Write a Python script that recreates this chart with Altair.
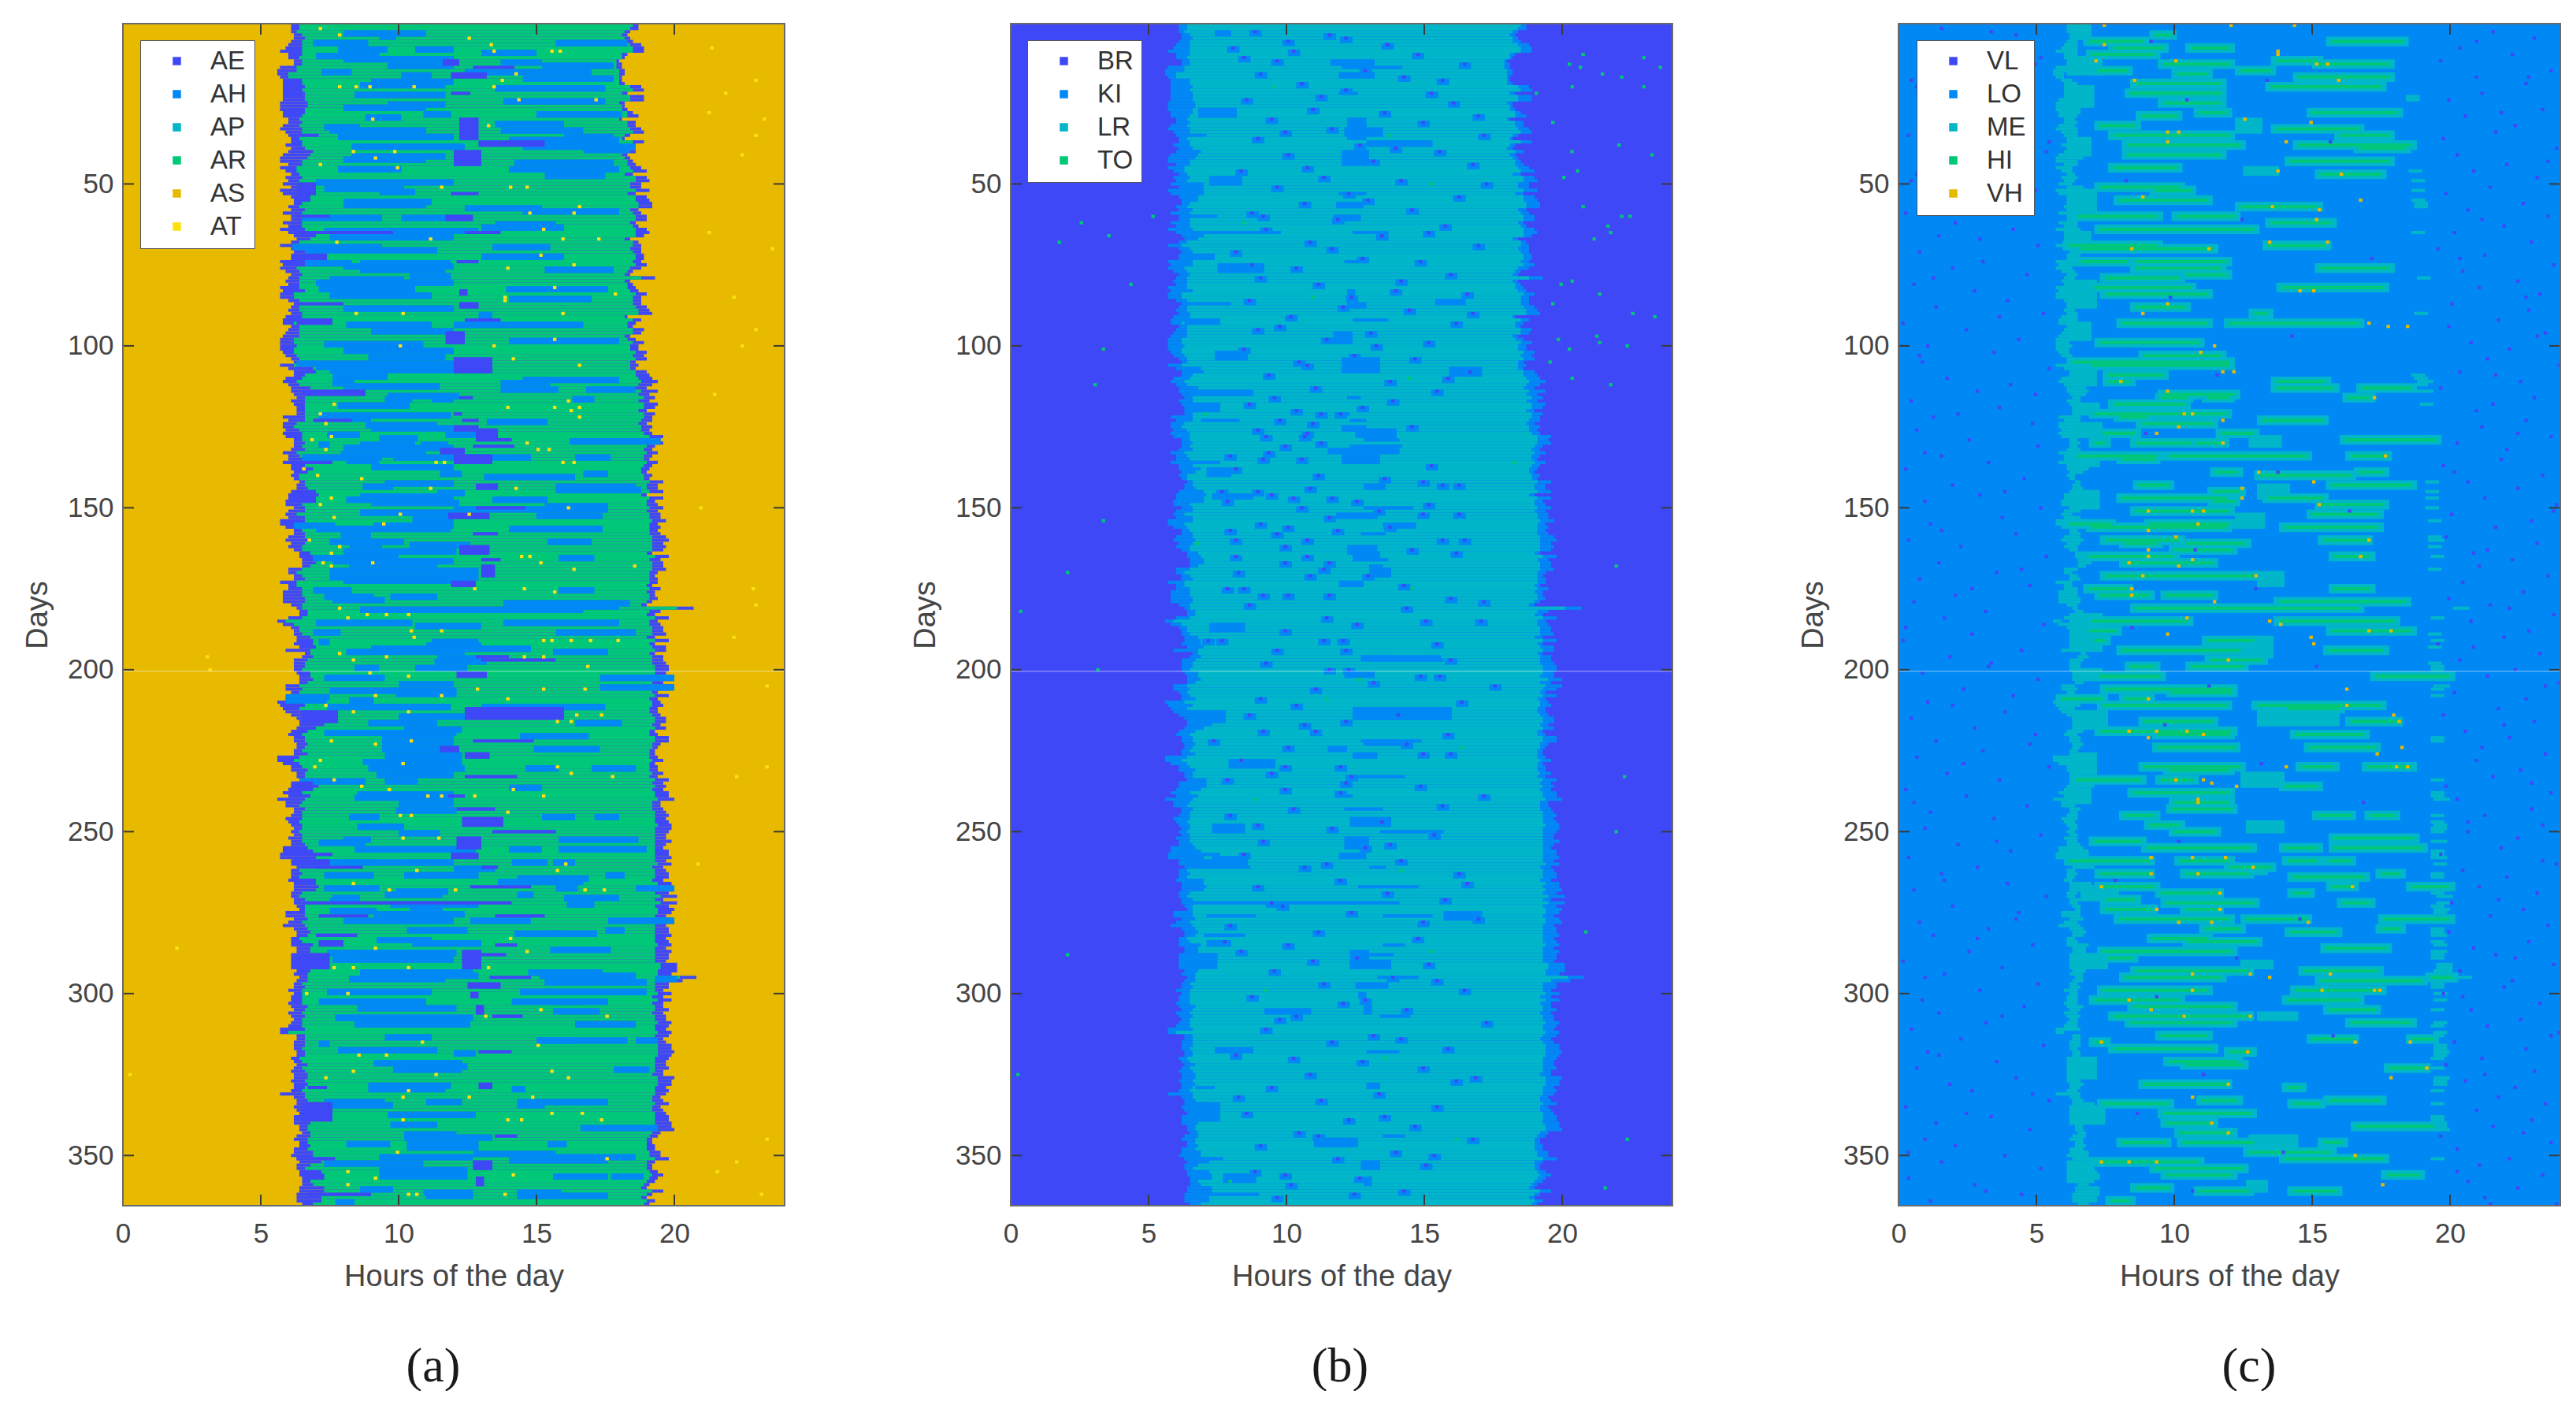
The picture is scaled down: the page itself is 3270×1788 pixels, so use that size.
import altair as alt
import pandas as pd

W, H = 840, 1500

HOUR_TICKS = [0, 5, 10, 15, 20]
DAY_TICKS = [50, 100, 150, 200, 250, 300, 350]

START = [
6.1,6.1,6.1,6.2,6.2,6.1,6.0,5.9,5.7,6.0,6.0,6.2,6.2,5.7,5.6,5.6,5.7,5.9,6.0,6.2,
6.2,6.1,6.0,5.8,5.7,5.7,5.7,5.8,5.8,6.0,6.0,5.8,5.7,5.9,6.0,6.1,6.1,5.9,6.1,6.0,
5.8,5.7,5.7,6.0,5.7,5.9,6.1,5.9,6.0,5.8,6.1,5.7,5.8,6.1,6.2,6.2,6.0,6.1,5.8,6.1,
6.1,5.8,6.0,5.7,6.0,6.2,6.3,6.1,5.7,6.1,6.2,6.1,6.1,5.7,5.8,5.7,5.9,6.1,6.0,5.9,
6.0,5.7,5.8,5.7,5.7,6.0,6.2,6.1,6.0,6.1,5.9,5.8,5.8,6.1,6.0,5.9,5.8,5.7,5.7,5.7,
5.7,5.8,5.9,6.1,6.2,5.7,6.0,6.2,6.2,5.9,5.8,6.0,6.1,6.1,6.2,6.3,6.1,6.2,6.3,6.3,
6.3,5.8,6.0,5.8,5.8,5.9,5.8,5.9,6.2,6.2,6.2,6.1,5.8,6.0,6.0,5.8,6.1,6.1,6.2,6.1,
6.2,6.4,6.3,6.3,6.3,6.0,6.0,5.9,5.9,6.2,6.0,5.9,6.0,5.7,5.7,5.9,6.2,6.2,6.0,5.9,
6.1,6.0,6.2,6.4,6.4,6.5,6.5,6.5,6.0,6.0,6.2,6.2,5.7,6.0,6.0,5.8,5.8,5.8,5.8,6.1,
6.3,6.4,6.4,6.0,5.6,5.8,6.1,6.2,6.2,6.3,6.3,6.2,6.4,5.9,6.6,6.5,6.2,6.2,6.2,6.2,
6.3,6.4,6.4,6.4,5.9,5.9,6.1,6.2,6.2,5.6,5.7,5.8,5.9,6.1,6.3,6.4,6.4,6.3,6.1,6.0,
6.2,6.2,6.3,6.3,6.2,6.2,5.6,5.6,5.8,6.1,6.1,6.3,6.3,6.4,6.2,6.1,6.0,5.8,6.0,5.6,
5.9,5.9,6.2,6.2,6.1,5.9,6.0,6.1,6.2,6.1,6.2,6.0,6.1,6.1,5.8,5.8,5.7,5.7,6.2,6.3,
6.3,6.1,6.1,6.1,6.0,6.2,6.2,6.2,6.1,6.1,6.2,6.2,6.3,6.4,5.9,5.9,6.2,6.0,5.8,6.2,
6.3,6.3,6.1,6.1,6.1,6.3,6.3,6.3,6.3,6.3,6.2,6.2,6.3,6.2,6.4,6.3,6.2,6.2,6.0,6.2,
6.1,6.1,6.0,6.1,6.2,6.0,6.1,6.2,6.1,6.0,5.7,5.7,6.3,6.3,6.2,6.2,6.2,6.3,6.3,6.1,
6.2,6.3,6.2,6.1,6.2,6.2,6.1,6.2,6.2,6.1,5.7,6.2,6.3,6.3,6.2,6.3,6.4,6.2,6.2,6.2,
6.4,6.4,6.5,6.3,6.2,6.4,6.4,6.2,6.2,6.1,6.3,6.4,6.3,6.3,6.4,6.4,6.5,6.5,6.5,6.4,
6.4,6.3,6.3,6.3,6.5]
END = [
18.7,18.7,18.4,18.3,18.4,18.5,18.8,18.9,18.9,18.3,18.2,18.0,18.1,18.1,18.2,18.2,18.1,18.1,18.2,18.8,
18.9,18.3,18.9,18.9,18.2,18.2,18.3,18.5,18.7,18.1,18.6,18.6,18.8,18.9,18.4,18.2,18.9,18.3,18.2,18.6,
18.3,18.4,18.5,18.6,18.8,19.0,18.5,19.0,19.1,18.8,18.8,19.1,18.6,19.0,19.1,19.2,19.2,18.7,18.8,19.0,
19.0,18.6,18.7,19.0,19.1,18.9,18.4,18.7,18.8,18.8,18.8,18.9,18.9,18.8,19.0,18.8,18.5,18.4,19.3,18.4,
18.5,18.6,18.7,19.0,18.8,18.8,18.8,19.0,19.1,19.2,18.3,18.8,18.6,18.5,18.9,18.8,18.4,18.6,18.9,18.7,
18.7,19.0,18.9,19.0,18.6,18.7,18.6,19.0,19.1,19.2,19.4,19.2,19.0,19.4,19.1,19.3,19.1,19.4,19.3,19.0,
19.3,19.2,19.2,19.0,19.2,19.1,19.2,19.6,19.5,19.6,19.3,19.2,19.4,19.2,19.1,19.4,19.2,19.1,19.0,19.2,
19.1,19.6,19.4,19.4,19.6,19.0,19.6,19.3,19.4,19.6,19.4,19.5,19.5,19.7,19.4,19.5,19.4,19.5,19.7,19.8,
19.6,19.7,19.6,19.2,19.8,19.5,19.6,19.6,19.7,19.4,19.3,19.4,19.4,19.2,19.5,19.3,19.3,19.4,19.2,19.0,
20.7,19.5,19.3,19.8,19.4,19.5,19.6,19.6,19.7,19.3,19.8,19.3,19.7,19.7,19.3,19.6,19.6,19.7,19.8,19.8,
19.7,19.7,20.0,19.6,20.0,19.8,19.4,19.8,19.4,19.5,19.6,19.4,19.4,19.5,19.7,19.7,19.5,19.7,19.3,19.4,
19.8,19.8,19.5,19.4,19.3,19.3,19.4,19.6,19.3,19.4,19.4,19.6,19.4,19.8,19.6,19.7,19.6,19.8,19.8,20.0,
19.5,19.5,19.6,19.7,19.8,19.7,19.8,19.9,19.9,19.8,19.7,19.7,19.9,19.7,19.6,19.8,19.8,19.9,19.7,19.9,
19.6,19.7,19.8,19.8,19.6,19.9,19.9,20.0,19.8,20.1,19.6,20.1,19.8,20.0,19.9,19.7,19.9,20.0,19.7,19.8,
19.8,19.9,19.7,19.8,19.9,19.7,19.9,19.8,19.8,19.7,20.1,20.1,20.1,19.9,20.8,20.3,19.8,19.8,19.6,19.9,
19.6,19.9,19.6,19.6,19.8,19.6,19.7,19.7,19.9,19.8,19.7,19.9,19.8,19.6,19.7,19.9,19.9,20.0,19.9,19.8,
19.7,19.7,19.8,19.6,19.6,20.0,19.9,19.9,19.7,19.8,19.7,19.5,19.6,19.8,19.5,19.6,19.7,19.8,19.8,19.9,
19.9,20.0,19.5,19.4,19.2,19.2,19.3,19.3,19.5,19.5,19.8,19.3,19.2,19.2,19.4,19.6,19.4,19.3,19.1,19.0,
19.6,19.2,19.0,19.3,19.1]
# width of the darker fringe at each edge, tenths of an hour
FRINGE_L = [
3,3,2,3,4,4,5,6,8,5,4,3,3,6,7,4,3,4,5,4,3,5,6,8,10,10,9,8,7,4,5,6,8,6,5,3,4,6,5,9,
10,10,8,5,6,4,3,6,4,5,6,11,11,7,6,3,4,5,7,5,4,7,5,9,10,8,5,3,5,4,4,5,6,9,8,6,5,4,4,5,
4,7,8,5,5,4,3,3,4,4,6,7,4,3,4,5,6,5,5,6,5,4,4,3,2,5,9,7,4,6,5,4,7,8,6,3,5,4,3,3,
3,8,6,5,4,5,7,6,3,4,3,5,5,4,5,10,5,8,5,3,2,2,3,4,7,11,10,11,6,4,6,4,6,9,6,5,3,4,6,8,
5,5,3,4,5,5,5,3,5,3,3,4,6,3,5,7,7,8,8,4,2,3,3,5,3,4,3,2,3,5,6,7,6,9,2,4,5,4,4,3,
5,4,5,3,5,6,3,3,5,7,9,6,8,9,10,10,9,7,6,5,4,4,4,3,3,5,8,6,6,4,6,3,3,7,9,10,5,7,8,10,
6,5,4,3,4,6,4,4,3,3,3,5,4,5,9,11,12,13,9,6,8,3,4,3,3,8,9,8,4,3,4,3,3,2,7,7,5,5,8,5,
5,4,3,4,8,5,5,12,12,12,12,9,5,5,3,4,3,4,5,3,4,4,5,6,4,5,5,3,4,5,9,3,3,3,4,4,3,3,3,3,
3,4,3,5,5,5,5,5,4,4,9,4,4,8,9,11,11,11,12,6,3,3,3,5,5,3,4,5,7,8,10,8,5,3,8,9,8,3,4,9,
9,10,9,9,4]
FRINGE_R = [
2,3,2,2,2,3,4,4,4,2,1,1,2,2,2,2,1,1,2,4,4,2,5,5,2,1,2,2,4,1,3,3,4,4,2,1,4,2,2,3,
2,2,2,3,4,5,3,4,5,4,4,5,3,4,5,5,5,3,3,4,4,2,2,4,5,3,2,2,3,4,3,3,3,3,4,4,2,2,5,2,
2,3,3,4,3,3,3,4,4,5,1,3,3,2,4,3,2,3,4,3,3,4,4,4,2,3,2,4,5,5,6,5,4,6,4,4,4,5,4,3,
4,3,4,3,4,3,3,5,4,5,3,3,4,3,2,4,3,3,2,3,2,5,4,4,5,2,5,3,4,5,4,4,4,5,3,4,3,4,5,6,
4,5,4,2,5,4,4,4,5,3,2,3,3,2,4,3,2,3,2,2,6,4,3,5,3,4,4,4,5,3,5,2,5,4,2,4,4,5,5,5,
4,5,5,4,6,5,2,5,3,3,4,3,3,3,4,4,3,4,2,3,5,5,3,2,2,2,3,4,2,3,3,4,3,5,4,4,4,5,5,6,
3,3,4,4,5,4,5,5,6,5,4,4,6,4,3,5,5,6,4,5,4,4,5,5,4,5,6,6,5,6,3,6,5,6,5,4,5,6,4,5,
5,6,4,5,5,4,6,5,5,4,6,6,7,5,6,7,5,5,3,5,4,5,4,3,5,4,4,4,5,5,4,5,5,4,4,5,5,6,5,5,
4,4,5,3,4,6,5,5,4,5,4,3,4,5,3,4,4,5,5,6,5,6,3,3,2,2,3,3,4,4,5,3,2,2,3,4,3,3,2,2,
4,2,2,3,2]

# (day, from hour, to hour): long morning / afternoon streaks
STREAKS = [
(4,9.3,9.9),(6,6.9,8.9),(6,15.7,18.3),(8,7.8,9.6),(8,10.6,12),(10,7,9.3),(12,13.7,15.2),(13,9.6,12),(13,15.2,17.8),
(15,7.2,8.3),(15,12.4,13.5),(16,10.1,11.2),(17,14.5,17.8),(19,8.6,11.7),(20,13.5,17.5),(22,8.4,11.7),(25,9.6,11.7),
(28,15,18.1),(28,10.9,11.9),(29,8.8,10.1),(32,7.3,8.6),(33,13.7,16.7),(35,7.8,12),(35,16,17.8),(38,8.3,12.4),(38,14.5,18.6),
(39,16.7,18.4),(41,8.3,11.7),(43,14.2,17.8),(45,7.8,10.1),(47,15.3,17.5),(51,7.3,10.2),(52,9.3,10.6),(55,8,11.2),(57,12.4,15.2),
(60,6.5,9.4),(60,10.1,12.2),(62,13.5,15.7),(64,7.3,12.9),(69,13.4,15.5),(69,6.15,9.4),(70,6.6,11.4),(74,6.6,8.3),(74,8.6,11.9),
(76,8.6,11.7),(76,15.3,17.8),(78,10.4,11.9),(79,7.5,10.2),(82,7.1,10.6),(82,13.9,17.6),(84,7.5,11.2),(88,8.6,10.4),(90,12.9,13.4),
(93,8.1,11.2),(93,12,16.7),(99,7.3,10.9),(103,8.9,11.7),(105,6.3,12),(106,7,12),(109,7.6,9.6),(111,7.6,8.4),(111,13.7,15.5),
(113,13.7,15.8),(113,16.8,18.6),(115,9.6,12.2),
(116,9.5,10.5),(116,11.2,12),(116,16.3,17.1),(118,7.8,10.4),(121,7.1,11.9),(122,8,9),(123,13.2,15.4),(124,8.8,11.4),(127,7.4,8.6),(127,11.7,12.9),
(129,16.2,19.5),(130,7.1,7.5),(130,8.6,10.6),(130,10.8,11.8),(134,6.5,9.4),(134,9.8,14.8),(134,16.4,17.7),(135,8.1,9.3),(139,11.5,12.3),(139,16.7,17.6),
(140,13.1,16.4),(143,8.7,9.8),(143,15.7,18.6),(145,11.4,12.4),(147,8.1,11.9),(147,13.4,15.4),(148,11.4,12.2),(149,15.3,17.6),(151,8.6,12),(152,15,17.4),
(155,6.2,7.7),(155,9.1,12),(156,7,11.9),(156,14,17.4),(160,7.5,10.2),(160,15.4,17),(161,8.2,9.4),(161,10.4,12.6),(163,10,12.1),(165,6.9,10),(165,15.8,17.1),
(167,8.2,11.4),(171,7.5,12.9),(175,6.9,8.3),(175,15.8,17.1),(177,7.3,9.1),(177,9.7,11.4),(179,13.8,18.4),(181,8.6,16.7),(185,7,10.5),(185,13.8,18),
(188,6.9,7.9),(188,15.7,18.6),(191,7.1,7.5),(191,11.2,12.9),(194,8.1,12.4),(194,15.6,17.6),(197,11.3,13.2),(199,8.4,9.3),(199,10.6,12.5),(202,7.3,9.5),(202,17.3,20),
(206,7.5,12.1),(207,9.9,12.1),(209,5.9,7.4),(209,8.2,9.1),(211,7.4,11.9),(211,13,17.5),(212,14.1,16),(216,8.9,11.4),(216,16.4,18.1),(219,7.3,10.4),(219,10.5,12.1),
(220,9.4,12),(220,14.4,16.9),(224,9.4,12.2),(224,14.9,17.3),(230,8.9,12.4),(230,14.6,15.8),(230,17,18.6),(231,9.8,12),(234,6.4,8.8),(234,9.5,10.7),(236,14,15.2),(238,8.5,12),
(243,9.9,12.1),(241,10,12),(245,8.2,9.3),(245,15.2,16.4),(245,17.1,18),(248,9.1,10.2),(250,10,11.5),(252,15.8,18.7),(253,7.1,8.8),(255,9,12.8),(255,14,15.2),(255,15.8,19),
(259,6.2,9.1),(259,10.2,12),(259,14.1,15.2),(259,15.6,16.4),(261,12,13.5),(263,7.3,9.1),(263,10.4,12.7),(263,17.5,18.2),(264,14.3,16.9),(267,7.3,9.3),(267,15.7,16.5),(267,18.6,20),
(269,9.5,11.6),(269,14.3,14.9),(271,7.5,8.6),(272,9.7,12.9),(272,16.1,17.1),(274,7.5,9.2),(274,10.4,11.6),(277,12.6,14.8),(277,17.6,20),(277,8,12),(280,11.1,12.4),(280,17.5,18.2),
(281,14.2,15.9),(283,9.2,11.2),(284,10.5,13),(286,15.5,17.7),(287,7.4,12.1),(289,7.6,8.5),(293,8.6,12.7),(293,14.7,17.4),(295,8.2,11.7),(295,19.3,20.1),(296,15.3,19),
(299,7.4,11.2),(299,14.4,17.5),(302,7.1,10.2),(302,14.1,16.7),(304,8.5,12.1),(305,15.6,17.3),(307,7.8,12.7),(309,8.4,12.1),(309,16.4,18.6),(313,9.5,11.2),(314,15,16.5),(314,18.6,19.4),
(315,7.1,7.5),(317,7.8,11.4),(318,12,12.8),(321,9.8,12.3),(322,10.4,12.5),(323,17.8,19.1),(328,8.9,11.9),(329,14.1,14.6),(333,11,12.3),(333,15.6,17.5),(334,7.4,9.8),(334,14.3,15.3),
(337,9.6,12.8),(340,9.7,11.4),(341,16.6,19.4),(343,10.2,12.1),(346,8.1,9.7),(346,10.3,12.9),(346,15.4,16.1),(349,12.7,15.7),(351,14,17.6),(352,7.3,10.9),(354,9.3,12.5),
(356,9.7,12.1),(356,17.7,18.9),(360,8.6,9.8),(361,10.9,12.7),(361,14.3,15.9),(364,7.7,8.4),
]
# further streaks only seen in panel (a)
AH_EXTRA = [
(3,8,11),(9,13,15),(11,8,12),(15,13.5,17),(18,9,12),(24,13.8,17.5),(26,8,11),(31,13.5,16),(33,7.5,11),(36,14,18),(42,8,11),(45,14,18),(49,7,12),(56,8,11),(58,14.5,18),(63,13,16),(66,7.5,12),(72,13,16),
(75,8,12),(80,7,12),(85,14,17),(88,8,12),(95,9,12),(98,14,18),(101,8,12),(107,7.5,12),(110,14.5,18),(112,8,11.5),
(125,9,12),(131,8,12),(128,9.3,10.7),(133,7.9,11),(137,9,12),(142,9.5,12),(144,15.7,18.8),(146,8.6,12),(148,9,12),(150,12,17.6),(153,10.5,12),(158,7.9,9),(163,8,12),(166,7.6,12),(169,7.5,12.9),(172,8,12.5),
(178,7.6,9.5),(180,13.9,18),(186,10.6,13),(192,11,13),(193,9,14.8),(196,11.4,13),(204,10,12),(205,17.3,20),(208,5.9,7.5),(214,10,12.4),(218,10.2,12.3),(222,9.4,12),(226,9.5,12.3),(228,8.7,12.3),(232,9.2,12),(239,8.4,12),
(245,8.3,9.3),(248,8.5,10.2),(252,8,9),(255,8.4,12.8),(259,8,12),(259,14.2,15.4),(263,10.2,12.9),(265,13.6,16.7),(268,9.9,11.8),(270,7.6,8.6),(270,16,18),(275,9.1,12.4),(277,9.3,12),(280,10.3,12.5),(281,15.5,17.2),
(284,10.5,13),(287,8.6,12),(289,7.7,12),(294,8.6,12.9),(294,15.1,18.6),(296,15.3,19),(299,8.3,11.2),(299,14.4,19),(302,9.1,11),(302,15.7,17.6),(307,7.7,12.6),(309,9,12.6),(314,15,18.3),(321,9.1,12.3),(323,9.8,12.3),
(329,8.9,11.7),(333,7.3,9.5),(333,14.3,17.6),(344,10.2,13.4),(347,10.3,12.9),(350,9.3,12.7),(350,15.7,18.6),(356,9.3,12.5),(356,15.6,17.6),(362,11,12.7),(362,14.3,17.6),
]

# (first day, last day, from hour, to hour): the darkest blocks
DARK = [
(12,13,11.6,12.2),(14,14,12.7,14.2),(16,17,11.9,13.2),(18,23,5.8,6.5),(22,22,11.9,12.6),(30,36,12.2,12.9),(35,35,6.1,7.1),(37,38,12.9,15.3),(40,44,12,13),
(50,53,6.3,7),(53,53,11.9,12.9),(60,61,11.7,12.7),(60,60,6.2,7.5),(65,65,6.3,9.8),(65,65,12.4,13.7),(72,73,6.3,7.4),(74,74,12.1,12.9),(83,84,12.2,12.5),
(87,87,6.2,8),(87,88,12.2,12.9),(92,92,12.4,13.7),(92,93,6.3,7.6),(96,99,11.7,12.4),(104,108,12,13.4),(108,108,6.2,7),(114,115,6.5,8.8),
(116,116,12.2,12.7),(121,121,12,12.3),(123,123,6.9,8.3),(123,123,12.3,12.9),(125,126,12,12.9),(126,129,12.8,13.6),(129,129,12.8,14.1),(131,131,12.7,14.2),(132,133,11.5,12.4),
(134,136,12,13.4),(136,136,6.1,7.6),(143,144,12.8,13.6),(145,148,6.1,6.8),(150,150,12.8,14.6),(152,153,11.8,13.3),(158,158,12.7,13.6),(162,164,12.2,13.3),(166,166,13,13.7),
(168,171,13,13.5),(173,174,11.9,12.8),(196,196,12.8,14),(197,197,13,15.7),(201,202,12.1,13.2),(212,215,12.4,16),(213,216,6.5,7.8),(222,222,12.7,14.9),(224,225,11.5,12.2),
(226,227,12.4,13.3),(233,233,12.4,14.3),(235,237,6.1,6.9),(239,239,11.8,12.4),
(243,243,12.1,13.5),(246,248,12.3,13.8),(250,250,13.4,15.7),(252,255,12.1,13),(257,257,6.2,7.6),(257,258,11.9,12.9),(259,260,6.1,7.5),(261,261,13,13.6),(261,261,7,8.7),
(265,265,6.1,7),(267,267,12.6,14.8),(272,272,6.5,14.1),(276,276,7.1,8.9),(276,276,13.5,15.3),(282,282,7,8.5),(284,285,7.1,8),(285,285,13.5,14.3),(288,292,6.1,7.5),(287,292,12.3,13),
(288,288,13,13.9),(295,295,13.3,14.8),(297,298,12.5,13.7),(300,301,12.6,12.9),(304,306,12.8,13.1),(307,307,13.4,14.5),(318,318,12.9,14.1),(328,329,12.9,13.4),(329,329,6.7,7.4),
(334,339,6.5,7.6),(344,344,13.5,14.3),(351,351,6.3,7.7),(352,354,12.7,13.4),(357,359,12.8,13.1),(362,362,6.7,9),
]

# (day, hour): single bright cells, panel (a)
A_DOTS = [
(2,7.1),(4,7.8),(20,8.4),(20,8.9),(20,10.5),(20,7.8),(40,8.3),(42,9.1),(40,9.8),(44,7.1),(45,9.9),(51,11.5),(51,14),(51,14.6),(57,16.5),(59,16.3),(59,14.7),(64,15.2),(67,11.1),(68,7.7),
(67,15.9),(67,17.2),(72,15.1),(75,16.3),(76,13.9),(85,13.8),(82,15.6),(84,17.8),(86,13.8),(90,10.1),(90,8.4),(90,15.9),(98,15.6),(100,13.4),(104,14.1),(106,16.5),(100,10),(9,15.8),(9,13.4),(9,15.5),
(5,12.5),(7,13.3),(18,13.7),(20,13.4),(16,14.2),(24,14.3),(24,17.1),(32,13.2),(30,9),
(118,7.6),(121,7.1),(124,7.3),(128,7.5),(129,6.8),(132,7.3),(138,6.5),(140,7),(141,8.6),(144,11.1),(147,7.5),(149,7.1),(153,7.6),(152,10),(155,9.4),(160,6.7),(162,7.8),(164,7.5),(167,7.2),(167,9),
(168,7.5),(165,14.4),(165,14.7),(167,15.1),(169,16.3),(168,18.5),(175,14.5),(176,15.6),(175,12.7),(183,9.5),(183,10.3),(183,8.8),(181,7.8),(184,8.1),(188,10.4),(188,11.5),(190,10.5),(191,15.2),(191,15.5),(191,16.2),
(191,16.9),(191,17.9),(196,15.2),(196,14.5),(196,9.5),(195,7.8),(197,8.3),(199,16.8),(201,8.9),(202,10.3),(206,12.8),(206,15.2),(206,16.7),(208,11.5),(208,9.1),(209,13.9),(211,7.3),(213,8.3),(213,10.3),(214,16.4),
(214,17.3),(216,15.7),(216,16.2),(222,7.5),(222,10.4),(223,9.1),(228,7.1),(230,6.9),(229,10.1),(230,15.7),(232,16.2),(233,17.7),(234,7.6),(236,8.6),(237,9.6),(237,14.1),(239,11),(239,11.5),(239,12.7),(239,15.2),
(136,15.9),(136,16.3),(136,11.3),(136,11.6),(132,15),(132,15.4),(130,14.6),(144,14.2),(152,12.5),(117,16.1),(119,15.6),(119,13.9),(119,16.5),(120,16.2),(122,16.5),(150,16.1),
(245,10),(245,10.4),(244,13.9),(262,15.7),(262,10.6),(252,10.1),(252,11.4),(268,12),(268,16.7),(268,17.4),(266,8.3),(268,9.6),(286,9.1),(287,14.6),(283,14),(292,13.2),(292,7.6),(292,8.3),(292,10.3),(300,8.1),
(300,6.6),(305,15.1),(307,13.1),(307,17.5),(316,15),(315,10.8),(319,8.5),(319,9.5),(324,8.3),(326,7.3),(326,16.1),(324,15.5),(325,11.3),(332,10.1),(330,10.3),(332,12.5),(332,14.8),(339,10.1),(339,13.9),(339,14.4),
(339,17.3),(337,15.5),(337,16.6),(349,9.9),(355,8.1),(357,9.1),(356,14.1),(359,8.1),(362,13.8),(362,10.3),(362,10.6),(351,17.5),(260,16),
(22,21.8),(28,21.2),(18,22.9),(30,23.2),(8,21.3),(35,22.9),(41,22.4),(65,21.2),(70,23.5),(85,22.1),(95,22.9),(100,22.4),(115,21.4),(150,20.9),(175,22.8),(180,22.9),(190,22.1),(205,23.3),(233,22.2),(230,23.3),
(196,3),(200,3.1),(286,1.9),(325,0.2),(345,23.3),(355,21.5),(352,22.2),(362,23.1),(260,20.8),
]

# (day, hour): single cells, panel (b)
B_LOW_DOTS = [
(3,8.8),(4,11.5),(6,10),(7,13.6),(8,8),(9,10.2),(10,14.7),(12,9.6),(13,16.4),(15,12.8),(16,9),(17,14.2),(19,10.5),(21,12.1),(22,15.2),(24,8.5),(25,16),(27,10.9),(28,13.5),(30,9.4),
(31,14.9),(33,11.6),(35,17.1),(36,8.9),(38,12.6),(40,15.5),(41,10),(43,13.1),(44,16.7),(46,8.3),(48,11.3),(49,14.1),(51,9.6),(53,12.2),(54,16.2),(56,10.6),(58,14.5),(59,8.7),(61,11.8),(63,15.7),
(64,9.2),(66,13.4),(68,10.8),(69,16.9),(71,8.1),(73,12.7),(74,14.8),(76,10.3),(78,15.9),(79,9),(81,11.1),(83,13.9),(84,16.5),(86,8.6),(88,12),(89,14.4),(91,10.1),(93,16.1),(94,9.7),(96,13),
(98,11.4),(99,15.1),(101,8.4),(103,12.4),(104,14.6),(106,10.7),(108,16.6),(109,9.3),(111,13.7),(113,11),(114,15.4),
(116,9.5),(117,13.8),(118,8.6),(120,10.3),(121,11.2),(121,11.9),(123,9.7),(124,10.9),(126,8.9),(127,10.7),(128,9.2),(128,10.6),(130,11.2),(133,9.3),(134,7.9),(135,9.1),(135,10.5),(138,8.1),(140,11.1),(141,13.5),
(142,14.9),(143,15.6),(143,16.2),(145,7.6),(145,8.9),(146,9.4),(147,10.2),(147,11.6),(148,7.8),(148,12.5),(149,15.1),(150,10.5),(152,14.9),(152,16.2),(153,11.5),(155,9),(156,10),(156,13.7),(157,7.9),(157,11.8),
(160,8.1),(160,10.7),(160,15.6),(160,16.4),(162,9.9),(163,14.5),(165,8.1),(165,10.7),(167,9.9),(167,11.5),(170,8.2),(171,10.8),(171,12.9),(175,7.8),(175,8.4),(177,9.1),(177,10),(177,11.5),(178,15.9),(179,17.1),
(181,14.3),(184,11.4),(185,17),(185,15),(188,9.9),(191,7.1),(191,7.6),(191,11.3),(191,12),(194,9.6),(194,12.1),(197,15.9),(200,11.5),(200,12.2),(202,14.8),(202,15.5),(205,17.5),(206,11),(209,9),(211,10.3),
(214,8.6),(214,14),(216,12.1),(219,9.1),(219,11),(220,15.8),(222,7.3),(224,10),(226,14.9),(226,15.9),(230,9.9),(230,11.9),(232,9.4),(233,12.3),(234,7.8),(236,14.8),(237,9.9),(238,11.9),(239,17.1),
(243,10.2),(245,7.9),(247,13.4),(249,11.6),(251,15.3),(253,9.1),(255,12.8),(257,8.4),(259,14.1),(261,10.6),(263,16.2),(265,11.9),(267,8.9),(269,13.6),(271,15.7),(273,9.8),(275,12.3),(277,16.9),(279,7.9),(281,11.1),
(283,14.7),(285,10),(287,8.3),(289,12.5),(291,15.1),(293,9.5),(295,13.8),(297,11.3),(299,16.4),(301,8.7),(303,12),(305,14.3),(307,10.3),(309,17.2),(311,9.2),(313,13.1),(315,11.6),(317,15.8),(319,8.1),(321,12.7),
(323,14.9),(325,10.8),(327,16.1),(329,9.4),(331,13.3),(333,11.2),(335,15.4),(337,8.5),(339,12.2),(341,14.6),(343,10.4),(345,16.7),(347,9),(349,13.9),(351,11.8),(353,15),(355,8.8),(357,12.6),(359,10.1),(361,14.2),(363,9.6),
(5,12.1),(11,8.4),(18,15.6),(23,11.2),(29,16.9),(34,9.9),(39,13.9),(45,10.7),(50,17.2),(55,12.9),(60,9.1),(65,15.1),(70,11.6),(75,8.7),(80,14.1),(85,12.3),(90,16.7),(95,8.9),(100,13.2),(105,10.4),(110,15.8),
(119,12.7),(125,14.5),(131,9.9),(137,15.2),(144,10.8),(151,13.3),(158,9.6),(164,16.1),(169,11.3),(174,14.2),(180,8.6),(186,12.5),(192,15.4),(198,9.2),(204,13.1),(210,16.3),(217,10.6),(223,14.3),(228,8.3),(235,12.1),
(242,15.6),(248,8.9),(254,13.7),(260,11.4),(266,16.5),(272,9.4),(278,14.9),(284,7.7),(290,10.9),(296,15.4),(302,12.8),(308,9.7),(314,14.1),(320,10.2),(326,16.8),(332,8.2),(338,13.5),(344,11.1),(350,15.3),(356,9.9),(362,12.4),
]
B_TO_DOTS = [
(10,20.7),(11,22.9),(13,20.2),(14,20.6),(16,21.4),(17,22.1),(20,22.9),(14,23.5),(20,20.3),(22,19),(31,19.6),(38,22),(40,20.3),(41,23.2),(46,20.5),(48,20),(57,20.7),(60,22.1),(60,22.4),(63,21.6),
(65,21.7),(67,21.1),(62,2.5),(66,3.5),(68,1.7),(60,5.1),(81,4.3),(80,20.3),(81,19.9),(84,21.3),(87,19.6),(90,22.5),(91,23.3),(97,21.2),(98,19.8),(99,21.3),(101,20.2),(100,22.3),(101,3.3),(112,3),
(105,19.5),(110,20.3),(112,21.7),(154,3.3),(170,2),(288,2),(325,0.2),(182,0.3),(200,3.1),(168,21.9),(250,21.9),(233,22.2),(345,22.3),(360,21.5),(281,20.8),
(20,9.5),(35,13.7),(50,15.2),(62,8.4),(85,10.9),(110,14.4),(121,7),(136,18.2),(161,6.7),(175,14.5),(203,12.6),(209,11.4),(224,16.3),(240,8.8),(262,14.1),(287,15.2),(299,9.2),(320,13.5),(345,16.1),(358,7.9),
]
KI_EXTRA = [
(3,4,7.4,8),(12,14,12,13.2),(27,29,6.8,8.2),(33,35,12.1,13.5),(48,50,7.2,8.4),(56,57,11.8,12.8),(75,77,7.5,9.2),(86,87,15.4,16.5),(102,104,7.4,8.6),(107,109,15.9,17.1),
(118,120,6.6,7.6),(126,128,12.5,14),(131,133,12.3,14.1),(138,140,7.1,8),(146,147,7.3,8.8),(155,156,13.5,14.7),(164,166,12.4,13.4),(169,171,13,13.8),(186,188,7.2,8.5),(196,197,12.7,15.6),
(214,215,12.5,15.9),(222,223,12.8,14.6),(228,230,7.9,9.6),(248,250,7.3,8.5),(258,260,7.3,8.6),(275,277,15.7,17.1),(290,292,12.3,13.8),(305,306,9.2,10.9),(317,318,7.4,8.8),(345,347,11,12.6),(356,358,7.7,8.9),
]

# (first day, last day, from hour, to hour): teal haze, panel (c)
C_HAZE = [
(1,5,6.3,7),(11,16,6.1,7.4),(20,26,6,7.1),(30,34,12.2,13.2),(36,41,6.1,7),(45,47,12.5,13.8),(52,58,6.1,7.2),(66,70,6,7),(80,88,6.1,7.2),(93,98,6.2,7),(105,112,6.3,7.2),(118,121,6.3,7.3),
(124,128,6.2,7.4),(133,137,6.2,7.3),(128,131,12.7,13.9),(145,150,6.2,7.3),(143,147,13,14.2),(170,174,13,14),(152,156,12.2,13.3),(183,194,6.2,7.4),(190,196,12.6,13.6),(200,203,6.3,7.4),
(212,217,13,16),(213,218,6.3,7.6),(226,232,6.2,7.2),(232,236,12.4,14),(237,241,6.1,7),(247,250,12.6,14),(261,263,12.2,13.4),(268,271,6.6,8),(288,292,6.2,7.6),(290,292,12.4,13.6),
(306,308,13,14.5),(320,326,6.1,7.2),(335,340,6.2,7.5),(344,347,12.7,14.5),(352,358,6.1,7.1),(358,361,12.6,13.4),
]
C_VH_DOTS = [
(1,7.4),(1,12),(1,14.3),(7,7.4),(9,13.7),(10,13.7),(12,7.1),(12,10),(13,15.1),(13,15.5),(18,8.5),(18,15.9),(30,12.5),(31,14.9),(34,9.7),(34,10.1),(37,9.7),(37,14),(46,13.7),(47,16),
(54,8.8),(55,16.7),(57,13.5),(58,15.2),(61,15.1),(68,13.4),(68,15.5),(70,8.4),(70,11.2),(83,14.5),(83,15),(87,9.7),(90,8.8),(93,17),(94,17.7),(94,18.4),(100,11.4),(102,10.9),(108,11.7),(108,12.1),(111,8),(114,9.7),
(116,17.2),(121,10.3),(121,10.6),(123,11.7),(125,10.1),(127,9.3),(130,11.7),(134,17.6),(139,13),(142,15),(144,12.4),(147,12.4),(149,15.2),(151,9),(151,10.6),(151,11),(155,10.8),(157,9),(159,10),(160,17),
(163,9),(165,9),(165,16.7),(167,8.3),(166,10.6),(168,10.1),(171,8.8),(171,12.9),(175,8.4),(177,8.4),(179,11.4),(184,10.4),(185,13.4),(186,13.8),(188,17),(188,17.8),(189,9.7),(190,14.9),(192,15),(197,11.9),
(206,16.2),(209,9),(211,16.2),(214,17.9),(216,18.1),(219,8.3),(219,9.3),(219,10.4),(220,11),(221,9),(224,18.2),(226,17.3),(230,14),(230,18),(230,18.4),(234,10),(234,11),(235,11.3),(236,12.2),(240,10.8),
(241,10.8),(258,9.1),(258,10.6),(258,11.8),(261,12.8),(263,9.1),(263,10.8),(267,7.3),(267,16.4),(269,11.6),(274,9.3),(274,11.6),(278,10.1),(278,11.3),(278,14.8),(294,10.6),(294,12.7),(294,15.6),(295,13.4),(299,10.6),
(299,15.3),(299,17.2),(299,17.4),(302,8.3),(305,9.1),(307,10.3),(307,12.7),(315,7.3),(315,16.5),(315,18.5),(318,12.6),(323,19.1),(326,17.8),(328,11.9),(332,10.6),(340,11.3),(343,11.9),(352,7.3),(352,8.3),(352,9.3),(350,16.5),(359,17.5),
]
C_VL_DOTS = [
(2,1.5),(3,21.5),(4,4.2),(5,23),(7,0.8),(8,20.3),(9,2.9),(10,22.2),(11,5.1),(12,19.6),(14,1.2),(15,23.6),(16,3.5),(17,20.9),(18,0.4),(19,22.7),(21,2.2),(22,21.1),(23,4.7),(24,19.9),
(26,0.9),(27,23.3),(28,3.1),(29,20.5),(30,1.8),(32,22.3),(33,4.4),(34,21.6),(35,0.3),(36,19.7),(38,2.6),(39,23.8),(40,5.3),(41,20.2),(42,1.1),(44,22),(45,3.8),(46,20.8),(47,0.6),(48,23.1),
(50,2.3),(51,21.4),(52,4.9),(53,19.8),(54,1.6),(56,22.6),(57,3.3),(58,20.6),(59,0.2),(60,23.5),(62,2),(63,21.9),(64,4.1),(65,20.1),(66,1.4),(68,22.9),(69,5),(70,19.5),(71,0.7),(72,21.2),
(74,3),(75,23.7),(76,1.9),(77,20.4),(78,4.6),(80,22.4),(81,0.5),(82,21),(83,2.7),(84,23.2),(86,3.9),(87,20),(88,1.3),(89,22.8),(90,5.2),(92,21.7),(93,0.1),(94,19.9),(95,2.4),(96,23.4),
(98,4.3),(99,20.7),(100,1),(101,22.1),(102,3.4),(104,21.3),(105,0.8),(106,23.9),(107,5.4),(108,20.3),(110,1.7),(111,22.5),(112,4),(113,19.6),(114,2.8),(116,23),(117,0.4),(118,21.5),(119,3.6),(120,20.9),
(122,1.2),(123,22.7),(124,4.8),(125,21.1),(126,0.6),(128,23.6),(129,2.5),(130,20.2),(131,5),(132,22),(134,1.5),(135,21.8),(136,3.2),(137,19.7),(138,0.2),(140,23.3),(141,4.5),(142,20.6),(143,1.9),(144,22.4),
(146,2.9),(147,21.2),(148,0.9),(149,23.8),(150,5.1),(152,20),(153,3.7),(154,22.9),(155,1.1),(156,21.6),(158,4.2),(159,19.8),(160,0.3),(161,23.1),(162,2.2),(164,20.8),(165,5.3),(166,22.2),(167,1.4),(168,21),
(170,3.5),(171,23.5),(172,0.7),(173,20.4),(174,4.7),(176,22.6),(177,2),(178,19.9),(179,0.5),(180,21.4),(182,3.1),(183,23.7),(184,1.6),(185,20.7),(186,5.2),(188,22.8),(189,2.6),(190,21.9),(191,0.1),(192,19.5),
(194,4.4),(195,23.2),(196,1.8),(197,20.3),(198,3.3),(200,22.3),(201,0.8),(202,21.3),(203,5),(204,23.9),(206,2.3),(207,20.1),(208,4.1),(209,22.7),(210,1),(212,21.7),(213,3.8),(214,19.7),(215,0.4),(216,23),
(218,2.7),(219,20.5),(220,4.9),(221,22.1),(222,1.3),(224,21.1),(225,3),(226,23.4),(227,0.6),(228,20.9),(230,5.4),(231,22.5),(232,1.7),(233,21.5),(234,3.6),(236,19.8),(237,0.2),(238,23.6),(239,2.4),(240,20.2),
(242,4.6),(243,22.9),(244,1.1),(245,21.2),(246,3.4),(248,23.3),(249,0.9),(250,20.6),(251,5.1),(252,22.4),(254,2.1),(255,21.8),(256,4),(257,19.6),(258,0.3),(260,23.8),(261,2.8),(262,20.4),(263,1.5),(264,22),
(266,3.9),(267,21),(268,0.5),(269,23.1),(270,5.3),(272,20),(273,1.9),(274,22.6),(275,4.3),(276,21.4),(278,0.7),(279,23.5),(280,3.2),(281,19.9),(282,1.2),(284,22.8),(285,4.8),(286,20.8),(287,2.5),(288,21.6),
(290,0.1),(291,23.7),(292,3.7),(293,20.3),(294,1.6),(296,22.2),(297,5),(298,21.9),(299,2.9),(300,19.7),(302,0.8),(303,23.2),(304,4.5),(305,20.7),(306,1.4),(308,22.5),(309,3.1),(310,21.3),(311,0.4),(312,23.9),
(314,2.2),(315,20.1),(316,5.2),(317,22.7),(318,1),(320,21.1),(321,3.5),(322,19.8),(323,0.6),(324,23),(326,4.2),(327,20.5),(328,1.8),(329,22.3),(330,2.6),(332,21.7),(333,5.4),(334,23.4),(335,0.2),(336,20.9),
(338,3.3),(339,22.9),(340,1.3),(341,21.5),(342,4.7),(344,19.6),(345,0.9),(346,23.6),(347,2),(348,20.2),(350,3.8),(351,22.1),(352,1.5),(353,21),(354,5.1),(356,23.3),(357,0.3),(358,20.6),(359,2.7),(360,22.4),
(362,4.4),(363,21.2),(364,1.1),(365,23.8),
(6,9.1),(18,13.3),(24,10.4),(37,15.6),(49,8.2),(61,12.4),(73,17.1),(85,9.8),(97,14.2),(109,11.5),(127,8.9),(139,13.7),(151,16.3),(163,10.7),(175,12.9),(187,8.4),(199,15.1),(205,11.2),(217,9.6),(229,13.1),
(241,16.8),(253,10.1),(265,7.8),(277,14.5),(289,12.2),(301,9.3),(313,15.7),(325,11),(337,8.6),(349,13.9),(361,10.6),
(3,3.3),(6,20.9),(10,1.7),(13,4.9),(17,22.8),(20,0.6),(25,3.9),(28,21.8),(31,2.7),(37,5.4),(43,23.5),(49,0.4),(55,4.6),(61,21.1),(67,2.9),(73,20.3),(79,1.2),(85,22.7),(91,3.6),(97,23.1),
(103,0.7),(109,21.6),(115,4.9),(121,2.1),(127,22.4),(133,0.9),(139,20.1),(145,3.8),(151,23.7),(157,1.5),(163,21.3),(169,4.4),(175,2.6),(181,22.1),(187,0.2),(193,20.8),(199,3.2),(205,23.4),(211,1.9),(217,21.9),
(223,4.7),(229,2.3),(235,22.9),(241,0.5),(247,20.6),(253,3.5),(259,23.3),(265,1.6),(271,21.7),(277,4.2),(283,2.8),(289,22.3),(295,0.9),(301,20.4),(307,3.7),(313,23.6),(319,1.4),(325,21.2),(331,4.8),(337,2.4),
(343,22.6),(349,0.3),(355,20.2),(361,3.1),(365,21.4),
]

LEGENDS = {
    "a": (["AE", "AH", "AP", "AR", "AS", "AT"], ["#3F48F6", "#0088F4", "#00B6C8", "#00C878", "#E7BA00", "#FBE10F"]),
    "b": (["BR", "KI", "LR", "TO"], ["#3F48F6", "#0088F4", "#00B6C8", "#00C878"]),
    "c": (["VL", "LO", "ME", "HI", "VH"], ["#3F48F6", "#0088F4", "#00B6C8", "#00C878", "#E7BA00"]),
}
LABELS = {"a": "(a)", "b": "(b)", "c": "(c)"}
LABEL_X = {"a": 394, "b": 418, "c": 445}
LEGEND_X = {"a": 22, "b": 21, "c": 23}

DAYS = list(range(1, len(START) + 1))
DOT_W = 1 / 8


def seg(rows, cat, d1, d2, h1, h2):
    rows.append({"y1": d1 - 0.5, "y2": d2 + 0.5, "x1": h1, "x2": h2, "cat": cat})


def whole(rows, cat):
    seg(rows, cat, 1, 365, 0, 24)


def windows(rows, outer, inner):
    for d, s, e, fl, fr in zip(DAYS, START, END, FRINGE_L, FRINGE_R):
        seg(rows, outer, d, d, s, e)
        seg(rows, inner, d, d, s + fl / 10, e - fr / 10)


def dots(rows, cat, items):
    for d, h in items:
        seg(rows, cat, d, d, h, h + DOT_W)


def panel_a():
    rows = []
    whole(rows, "AS")
    windows(rows, "AE", "AR")
    for d, h1, h2 in STREAKS + AH_EXTRA:
        seg(rows, "AH", d, d + 1, h1, h2)
    for d1, d2, h1, h2 in DARK:
        seg(rows, "AE", d1, d2, h1, h2)
    dots(rows, "AT", A_DOTS)
    return rows


def panel_b():
    rows = []
    whole(rows, "BR")
    windows(rows, "KI", "LR")
    for d1, d2, h1, h2 in DARK + KI_EXTRA:
        seg(rows, "KI", d1, d2, h1, h2)
    for d, h in B_LOW_DOTS:
        seg(rows, "KI", d, d + 1, h - 0.15, h + 0.3)
    dots(rows, "BR", B_LOW_DOTS)
    dots(rows, "TO", B_TO_DOTS)
    return rows


def panel_c():
    rows = []
    whole(rows, "LO")
    for d, s, fl, e, fr in zip(DAYS, START, FRINGE_L, END, FRINGE_R):
        seg(rows, "ME", d, d, s, s + fl / 10)
        if fr >= 5:
            seg(rows, "ME", d, d, e - fr / 10, e)
    for d1, d2, h1, h2 in C_HAZE:
        seg(rows, "ME", d1, d2, h1, h2)
    for d, h1, h2 in STREAKS:
        seg(rows, "ME", d - 1, d + 1, h1 - 0.2, h2 + 0.2)
    for d, h1, h2 in STREAKS:
        seg(rows, "HI", d, d, h1, h2)
    dots(rows, "VL", C_VL_DOTS)
    dots(rows, "VH", C_VH_DOTS)
    return rows


INK = "#454545"
XS = alt.Scale(domain=[0, 24], nice=False, zero=False)
YS = alt.Scale(domain=[0.5, 365.5], nice=False, zero=False, reverse=True)
TEXT = dict(ticks=False, domain=False, grid=False, format="d", labelFontSize=35, titleFontSize=38,
            titleFontWeight="normal", labelColor=INK, titleColor=INK, labelFlush=False,
            labelFont="Liberation Sans", titleFont="Liberation Sans")
XA = alt.Axis(values=HOUR_TICKS, labelPadding=18, titlePadding=18, **TEXT)
YA = alt.Axis(values=DAY_TICKS, labelPadding=12, titlePadding=18, **TEXT)


def ex(field):
    return alt.X(field, scale=XS, title="Hours of the day", axis=XA)


def ey(field):
    return alt.Y(field, scale=YS, title="Days", axis=YA)


def build(key, rows):
    cats, cols = LEGENDS[key]
    cells = alt.Chart(pd.DataFrame(rows)).mark_rect(strokeWidth=0).encode(
        x=ex("x1:Q"), x2="x2:Q", y=ey("y1:Q"), y2="y2:Q",
        color=alt.Color("cat:N", scale=alt.Scale(domain=cats, range=cols), sort=cats,
                        legend=alt.Legend(orient="none", legendX=LEGEND_X[key], legendY=21, title=None,
                                          fillColor="white", strokeColor="#555555", padding=10,
                                          symbolType="square", symbolSize=110, symbolStrokeWidth=0,
                                          symbolOffset=20, labelOffset=26, labelFontSize=33, labelColor="#333333",
                                          labelFont="Liberation Sans", rowPadding=8, clipHeight=33)),
    )
    line = alt.Chart(pd.DataFrame({"d": [200.5]})).mark_rule(color="#FFFFFF", opacity=0.55, strokeWidth=1).encode(
        y=ey("d:Q"), x=alt.value(0), x2=alt.value(W))
    xt = pd.DataFrame({"h": HOUR_TICKS[1:]})
    yt = pd.DataFrame({"d": DAY_TICKS})
    tick = dict(color="#3A3A3A", strokeWidth=2)
    ticks = [
        alt.Chart(xt).mark_rule(**tick).encode(x=ex("h:Q"), y=alt.value(H), y2=alt.value(H - 14)),
        alt.Chart(xt).mark_rule(**tick).encode(x=ex("h:Q"), y=alt.value(0), y2=alt.value(14)),
        alt.Chart(yt).mark_rule(**tick).encode(y=ey("d:Q"), x=alt.value(0), x2=alt.value(14)),
        alt.Chart(yt).mark_rule(**tick).encode(y=ey("d:Q"), x=alt.value(W), x2=alt.value(W - 14)),
    ]
    frame = alt.Chart(pd.DataFrame({"a": [0], "b": [24], "c": [0.5], "e": [365.5]})).mark_rect(
        fillOpacity=0, stroke="#6A6A6A", strokeWidth=2).encode(
        x=ex("a:Q"), x2="b:Q", y=ey("c:Q"), y2="e:Q")
    cap = alt.Chart(pd.DataFrame({"t": [LABELS[key]]})).mark_text(
        font="Liberation Serif", fontSize=62, color="#1A1A1A", baseline="middle", align="center").encode(
        x=alt.value(LABEL_X[key]), y=alt.value(1704), text="t:N")
    return alt.layer(cells, line, *ticks, frame, cap).properties(width=W, height=H)


chart = alt.hconcat(build("a", panel_a()), build("b", panel_b()), build("c", panel_c()), spacing=159).resolve_scale(
    color="independent"
).properties(
    padding={"left": 21, "top": 21, "right": 0, "bottom": 0}
).configure_view(stroke=None)

chart.save("out.html", embed_options={"renderer": "svg", "actions": False})
